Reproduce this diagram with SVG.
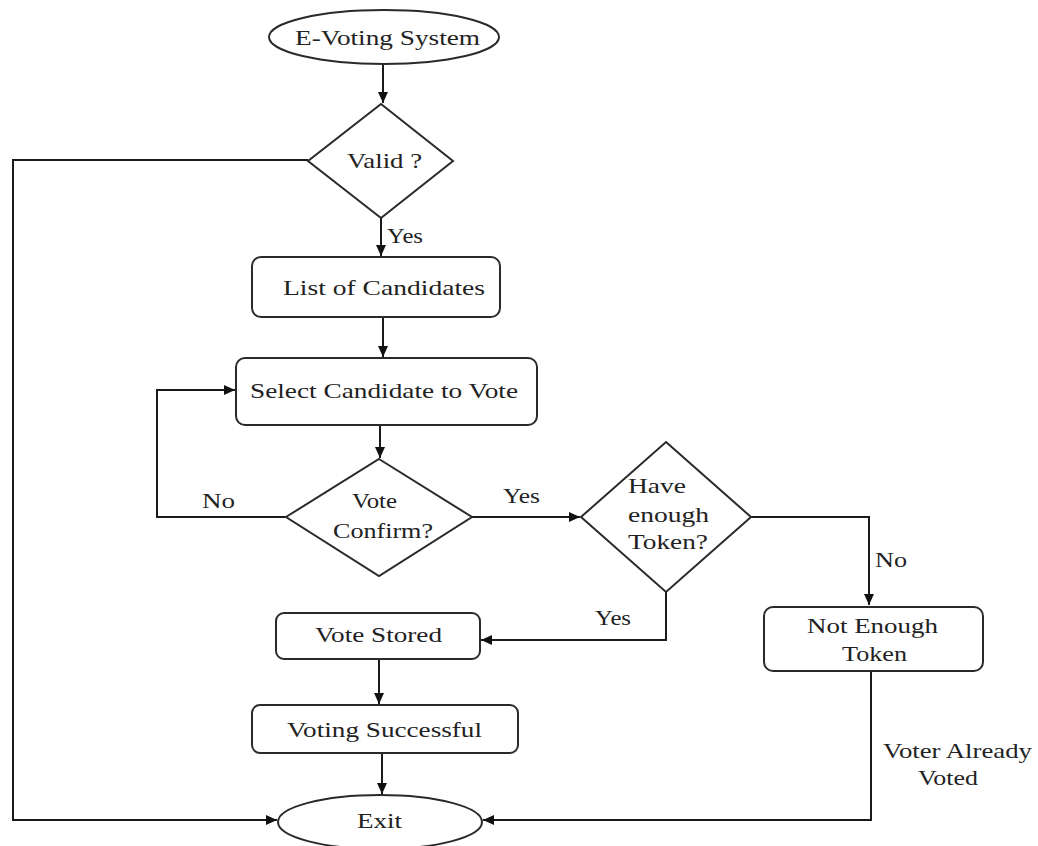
<svg xmlns="http://www.w3.org/2000/svg" width="1038" height="846" viewBox="0 0 1038 846">
<style>
.shape{fill:#fff;stroke:#2a2a2a;stroke-width:2}
.conn{fill:none;stroke:#1a1a1a;stroke-width:2}
text{font-family:"Liberation Serif","Times New Roman",serif;font-size:22px;fill:#222}
</style>
<defs>
<marker id="arr" markerUnits="userSpaceOnUse" markerWidth="12" markerHeight="10" refX="11" refY="5" orient="auto">
<path d="M0,0 L11,5 L0,10 z" fill="#111"/>
</marker>
</defs>
<rect width="1038" height="846" fill="#fff"/>
<g id="connectors">
<path class="conn" d="M383,64 V103" marker-end="url(#arr)"/>
<path class="conn" d="M381,218 V256" marker-end="url(#arr)"/>
<path class="conn" d="M308,160 H13 V820 H277" marker-end="url(#arr)"/>
<path class="conn" d="M383,317 V357" marker-end="url(#arr)"/>
<path class="conn" d="M380,425 V458" marker-end="url(#arr)"/>
<path class="conn" d="M286,517 H157 V390 H235" marker-end="url(#arr)"/>
<path class="conn" d="M472,517 H580" marker-end="url(#arr)"/>
<path class="conn" d="M751,517 H869 V605" marker-end="url(#arr)"/>
<path class="conn" d="M666,592 V640 H481" marker-end="url(#arr)"/>
<path class="conn" d="M379,659 V704" marker-end="url(#arr)"/>
<path class="conn" d="M382,753 V794" marker-end="url(#arr)"/>
<path class="conn" d="M871,671 V820 H483" marker-end="url(#arr)"/>
<text x="387" y="243" textLength="36" lengthAdjust="spacingAndGlyphs">Yes</text>
<text x="202" y="508" textLength="33" lengthAdjust="spacingAndGlyphs">No</text>
<text x="503" y="503" textLength="37" lengthAdjust="spacingAndGlyphs">Yes</text>
<text x="875" y="567" textLength="32" lengthAdjust="spacingAndGlyphs">No</text>
<text x="595" y="625" textLength="36" lengthAdjust="spacingAndGlyphs">Yes</text>
<text x="883" y="758" textLength="149" lengthAdjust="spacingAndGlyphs">Voter Already</text>
<text x="918" y="785" textLength="60" lengthAdjust="spacingAndGlyphs">Voted</text>
</g>
<g id="start">
<ellipse class="shape" cx="384" cy="37" rx="115" ry="27"/>
<text x="295" y="45" textLength="185" lengthAdjust="spacingAndGlyphs">E-Voting System</text>
</g>
<g id="valid">
<polygon class="shape" points="381,104 453,161 381,218 308,161"/>
<text x="347" y="168" textLength="75" lengthAdjust="spacingAndGlyphs">Valid ?</text>
</g>
<g id="list">
<rect class="shape" x="252" y="257" width="248" height="60" rx="9"/>
<text x="283" y="295" textLength="202" lengthAdjust="spacingAndGlyphs">List of Candidates</text>
</g>
<g id="select">
<rect class="shape" x="236" y="358" width="301" height="67" rx="9"/>
<text x="250" y="398" textLength="268" lengthAdjust="spacingAndGlyphs">Select Candidate to Vote</text>
</g>
<g id="confirm">
<polygon class="shape" points="379,459 472,517 379,576 286,517"/>
<text x="352" y="508" textLength="45" lengthAdjust="spacingAndGlyphs">Vote</text>
<text x="333" y="538" textLength="100" lengthAdjust="spacingAndGlyphs">Confirm?</text>
</g>
<g id="token">
<polygon class="shape" points="666,442 751,517 666,592 581,517"/>
<text x="628" y="493" textLength="58" lengthAdjust="spacingAndGlyphs">Have</text>
<text x="628" y="522" textLength="81" lengthAdjust="spacingAndGlyphs">enough</text>
<text x="628" y="549" textLength="80" lengthAdjust="spacingAndGlyphs">Token?</text>
</g>
<g id="notenough">
<rect class="shape" x="764" y="607" width="219" height="64" rx="9"/>
<text x="807" y="633" textLength="131" lengthAdjust="spacingAndGlyphs">Not Enough</text>
<text x="842" y="661" textLength="65" lengthAdjust="spacingAndGlyphs">Token</text>
</g>
<g id="stored">
<rect class="shape" x="276" y="613" width="204" height="46" rx="8"/>
<text x="315" y="642" textLength="127" lengthAdjust="spacingAndGlyphs">Vote Stored</text>
</g>
<g id="success">
<rect class="shape" x="252" y="705" width="266" height="48" rx="8"/>
<text x="287" y="737" textLength="195" lengthAdjust="spacingAndGlyphs">Voting Successful</text>
</g>
<g id="exit">
<ellipse class="shape" cx="380" cy="822" rx="102" ry="27"/>
<text x="357" y="828" textLength="45" lengthAdjust="spacingAndGlyphs">Exit</text>
</g>
</svg>
